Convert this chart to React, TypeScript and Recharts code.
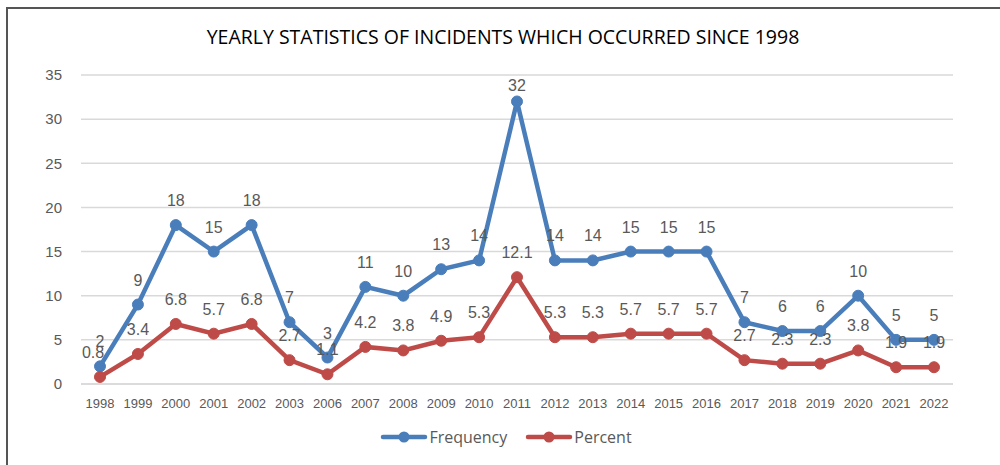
import React from "react"
import {
  LineChart,
  Line,
  XAxis,
  YAxis,
  CartesianGrid,
  LabelList,
} from "recharts"

const years = [
  "1998", "1999", "2000", "2001", "2002", "2003", "2006", "2007", "2008", "2009",
  "2010", "2011", "2012", "2013", "2014", "2015", "2016", "2017", "2018", "2019",
  "2020", "2021", "2022",
]
const frequency = [2, 9, 18, 15, 18, 7, 3, 11, 10, 13, 14, 32, 14, 14, 15, 15, 15, 7, 6, 6, 10, 5, 5]
const percent = [0.8, 3.4, 6.8, 5.7, 6.8, 2.7, 1.1, 4.2, 3.8, 4.9, 5.3, 12.1, 5.3, 5.3, 5.7, 5.7, 5.7, 2.7, 2.3, 2.3, 3.8, 1.9, 1.9]
const yTicks = [0, 5, 10, 15, 20, 25, 30, 35]

const data = years.map((year, i) => ({
  year,
  Frequency: frequency[i],
  Percent: percent[i],
}))

const BLUE = "#4a7ebb"
const RED = "#be4b48"
const FONT = "'Liberation Sans', Arial, sans-serif"

// data label above each point, kept inside the plot area like Excel does
const makeLabel = (shiftFirst: boolean) => (props: any) => {
  const { x, y, value, index } = props
  const dx = shiftFirst && index === 0 ? -7 : 0
  return (
    <text
      x={x + dx}
      y={Math.max(y - 19, 91)}
      textAnchor="middle"
      fill="#595959"
      fontSize={16}
      fontFamily={FONT}
    >
      {value}
    </text>
  )
}

function ChartLegend() {
  const items = [
    { name: "Frequency", color: BLUE },
    { name: "Percent", color: RED },
  ]
  return (
    <div
      style={{
        position: "absolute",
        left: 6,
        top: 426,
        width: 1000,
        display: "flex",
        justifyContent: "center",
        gap: 18,
        fontFamily: "'Open Sans', sans-serif",
        fontSize: 16,
        color: "#595959",
      }}
    >
      {items.map((it) => (
        <div key={it.name} style={{ display: "flex", alignItems: "center" }}>
          <svg width={48} height={14}>
            <line x1={3} y1={7} x2={45} y2={7} stroke={it.color} strokeWidth={4.5} strokeLinecap="round" />
            <circle cx={24} cy={7} r={5.5} fill={it.color} />
          </svg>
          <span style={{ marginLeft: 1 }}>{it.name}</span>
        </div>
      ))}
    </div>
  )
}

export default function App() {
  return (
    <div style={{ position: "absolute", left: 0, top: 0, width: 1000, height: 465, background: "#fff", overflow: "hidden" }}>
      <div
        style={{
          position: "absolute",
          left: 6,
          top: 7,
          width: 1100,
          height: 600,
          borderTop: "2px solid #555",
          borderLeft: "2px solid #555",
        }}
      />
      <div
        style={{
          position: "absolute",
          left: 0,
          top: 23,
          width: 1006,
          textAlign: "center",
          fontFamily: "'Open Sans', sans-serif",
          fontSize: 19.5,
          color: "#000",
        }}
      >
        YEARLY STATISTICS OF INCIDENTS WHICH OCCURRED SINCE 1998
      </div>
      <div style={{ position: "absolute", left: 0, top: 0 }}>
        <LineChart
          width={1000}
          height={465}
          data={data}
          margin={{ top: 75, right: 47, left: 0, bottom: 51 }}
        >
          <CartesianGrid horizontal vertical={false} stroke="#d9d9d9" strokeWidth={1.5} />
          <XAxis
            dataKey="year"
            height={30}
            padding={{ left: 19, right: 19 }}
            axisLine={{ stroke: "#d9d9d9", strokeWidth: 1.5 }}
            tickLine={false}
            tickMargin={9}
            interval={0}
            tick={{ fill: "#595959", fontSize: 13, fontFamily: FONT }}
          />
          <YAxis
            width={81}
            domain={[0, 35]}
            ticks={yTicks}
            axisLine={false}
            tickLine={false}
            tickMargin={13}
            tick={{ fill: "#595959", fontSize: 15, fontFamily: FONT }}
          />
          <Line
            dataKey="Frequency"
            stroke={BLUE}
            strokeWidth={4.5}
            dot={{ r: 5.5, fill: BLUE, stroke: BLUE, strokeWidth: 1 }}
            isAnimationActive={false}
          >
            <LabelList dataKey="Frequency" content={makeLabel(false)} />
          </Line>
          <Line
            dataKey="Percent"
            stroke={RED}
            strokeWidth={4.5}
            dot={{ r: 5.5, fill: RED, stroke: RED, strokeWidth: 1 }}
            isAnimationActive={false}
          >
            <LabelList dataKey="Percent" content={makeLabel(true)} />
          </Line>
        </LineChart>
      </div>
      <ChartLegend />
    </div>
  )
}
